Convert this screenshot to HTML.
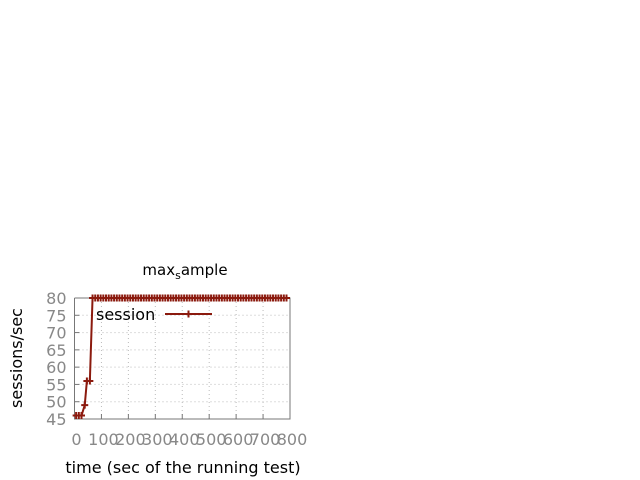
<!DOCTYPE html>
<html><head><meta charset="utf-8"><style>
html,body{margin:0;padding:0;background:#fff;}
svg{display:block;font-family:"DejaVu Sans","Liberation Sans",sans-serif;}
</style></head><body>
<svg id="chart" width="640" height="480">
<g id="grid"></g>
<g id="axes"></g>
<g id="ticks"></g>
<g id="series"></g>
<text x="185" y="275" text-anchor="middle" font-size="15" fill="#000">max<tspan font-size="11" dy="4">s</tspan><tspan dy="-4">ample</tspan></text>
<text transform="translate(22,358) rotate(-90)" text-anchor="middle" font-size="16" fill="#000">sessions/sec</text>
<text x="183" y="473" text-anchor="middle" font-size="16" fill="#000">time (sec of the running test)</text>
<g>
<text x="96" y="320" font-size="16" fill="#000">session</text>
<line x1="165" y1="314" x2="212" y2="314" stroke="#8b1a0e" stroke-width="2"/>
<path d="M188.5,310.5v7M185,314h7" stroke="#8b1a0e" stroke-width="2"/>
</g>
</svg>
<script>
const times = [6,16,26,38,46,57,67,77,87,97,107,117,127,137,147,157,167,177,187,197,207,217,227,237,247,257,267,277,287,297,307,317,327,337,347,357,367,377,387,397,407,417,427,437,447,457,467,477,487,497,507,517,527,537,547,557,567,577,587,597,607,617,627,637,647,657,667,677,687,697,707,717,727,737,747,757,767,777,787];
const values = [46,46,46,49,56,56,80,80,80,80,80,80,80,80,80,80,80,80,80,80,80,80,80,80,80,80,80,80,80,80,80,80,80,80,80,80,80,80,80,80,80,80,80,80,80,80,80,80,80,80,80,80,80,80,80,80,80,80,80,80,80,80,80,80,80,80,80,80,80,80,80,80,80,80,80,80,80,80,80];
const xTicks = [0,100,200,300,400,500,600,700,800];
const yTicks = [45,50,55,60,65,70,75,80];
const X0=74.5,X1=290,Y0=419,Y1=298;
const xs=v=>X0+(v-0)/800*(X1-X0);
const ys=v=>Y0-(v-45)/35*(Y0-Y1);
const NS="http://www.w3.org/2000/svg";
function mk(parent,tag,attrs){const e=document.createElementNS(NS,tag);for(const k in attrs)e.setAttribute(k,attrs[k]);document.getElementById(parent).appendChild(e);return e;}
xTicks.forEach(t=>{
 const x=xs(t);
 if(t>0&&t<800){const g=mk('grid','line',{x1:x,y1:Y0,x2:x,y2:Y1,stroke:'#bbb','stroke-dasharray':'1,3','stroke-width':1});
 
 }
 const tk=mk('axes','line',{x1:x,y1:Y0,x2:x,y2:Y0-5,stroke:'#777'});
 
 
 const tx=mk('ticks','text',{x:x+2,y:Y0+26,'text-anchor':'middle','font-size':16,fill:'#888'});
 tx.textContent=t;
 
 
});
yTicks.forEach(t=>{
 const y=ys(t);
 if(t>45&&t<80){const g=mk('grid','line',{x1:X0,y1:y,x2:X1,y2:y,stroke:'#bbb','stroke-dasharray':'1,3','stroke-width':1});
 
 }
 const tk=mk('axes','line',{x1:X0,y1:y,x2:X0+5,y2:y,stroke:'#777'});
 
 
 const tx=mk('ticks','text',{x:X0-8,y:y+6,'text-anchor':'end','font-size':16,fill:'#888'});
 tx.textContent=t;
 
 
});
const frame=mk('axes','path',{d:`M${X0},${Y1}V${Y0}H${X1}V${Y1}H${X0}`,fill:'none',stroke:'#777'});


const pts=times.map((t,i)=>xs(t)+','+ys(values[i])).join(' ');
const line=mk('series','polyline',{points:pts,fill:'none',stroke:'#8b1a0e','stroke-width':2});


times.forEach((t,i)=>{
 const x=xs(t),y=ys(values[i]);
 const m=mk('series','path',{d:`M${x},${y-3.5}v7M${x-3.5},${y}h7`,stroke:'#8b1a0e','stroke-width':2});
 
 
});
</script>
</body></html>
